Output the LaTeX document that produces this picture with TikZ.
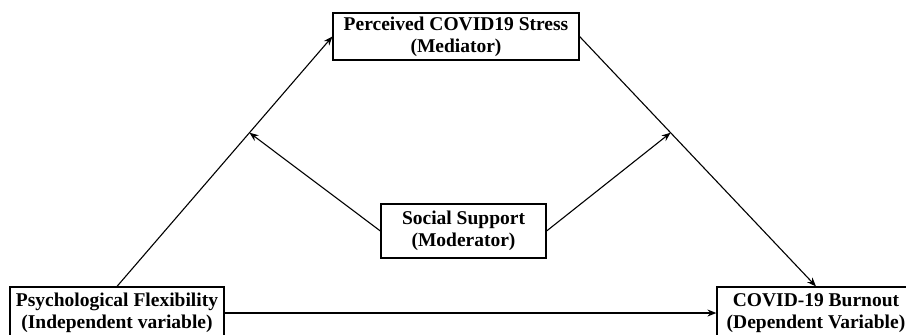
\documentclass[tikz,border=0pt]{standalone}
\usepackage{fontspec}
\setmainfont{Liberation Serif}
\usetikzlibrary{arrows.meta,calc}
\begin{document}
\begin{tikzpicture}[x=1pt,y=-1pt,
  box/.style={draw,line width=1.2pt,rectangle,inner sep=0pt,align=center,
    font=\fontsize{19.5}{22}\selectfont\bfseries},
  arr/.style={line width=1.1pt,-{Stealth[length=9pt,width=7pt]}}]
\useasboundingbox (0,0) rectangle (906,335);
\node[box,minimum width=246pt,minimum height=47pt] (tb) at (456,36.5) {Perceived COVID19 Stress\\(Mediator)};
\node[box,minimum width=165pt,minimum height=54pt] (mb) at (463.5,231) {Social Support\\(Moderator)};
\node[box,minimum width=214pt,minimum height=52pt] (lb) at (117,313) {Psychological Flexibility\\(Independent variable)};
\node[box,minimum width=198pt,minimum height=52pt] (rb) at (816,313) {COVID-19 Burnout\\(Dependent Variable)};
\coordinate (pl) at ($(lb.north)!0.615!(tb.west)$);
\coordinate (pr) at ($(tb.east)!0.385!(rb.north)$);
\draw[arr] (lb.north) -- (tb.west);
\draw[arr] (tb.east) -- (rb.north);
\draw[arr] (lb.east) -- (rb.west);
\draw[arr] (mb.west) -- (pl);
\draw[arr] (mb.east) -- (pr);
\end{tikzpicture}
\end{document}
